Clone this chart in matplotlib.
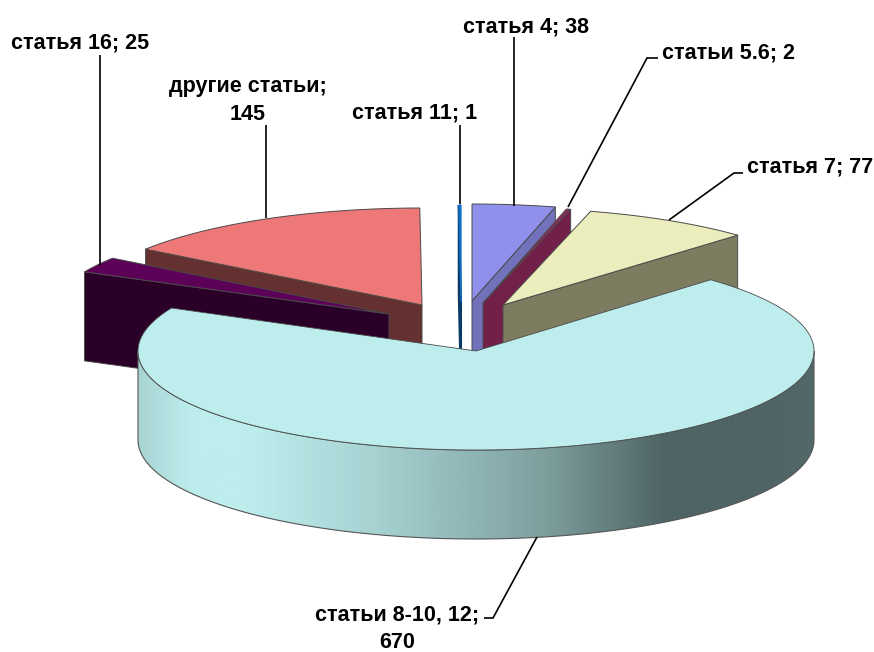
import numpy as np
import matplotlib
matplotlib.use("Agg")
import matplotlib.pyplot as plt
from matplotlib.colors import LinearSegmentedColormap
from matplotlib.patches import Polygon

# ---- data ----
slice_names = ["статья 4", "статьи 5.6", "статья 7", "статьи 8-10, 12",
               "статья 16", "другие статьи", "статья 11"]
slice_values = [38, 2, 77, 670, 25, 145, 1]

# ---- style / layout ----
top_colors = ["#8f8fec", "#8a2a5c", "#ecedbd", "#bdeeed", "#5d0058", "#ee7777", "#0f6fc6"]
face_colors = ["#7272bc", "#722049", "#7d7c60", "#bdeeed", "#2a0028", "#653130", "#0a3a68"]
apex_x = [472, 483, 503, 476, 389, 422, 461]
apex_y = [301, 303, 305, 351, 314, 305, 302]
radius_y = [97, 97, 97, 99, 97, 97, 97]
RX = 338
DEPTH = 89
EDGE = "#4a4a4a"
SLIVER = 6

fig = plt.figure(figsize=(8.74, 6.52), dpi=100)
ax = fig.add_axes([0, 0, 1, 1])
ax.set_xlim(0, 874)
ax.set_ylim(652, 0)
ax.axis("off")

total = sum(slice_values)
ends = np.cumsum(slice_values) / total * 2 * np.pi
starts = np.concatenate([[0], ends[:-1]])


def rim(i, a, b, n=120):
    t = np.linspace(a, b, n)
    return np.column_stack([apex_x[i] + RX * np.sin(t), apex_y[i] - radius_y[i] * np.cos(t)])


def draw_piece(i, z):
    a, b = starts[i], ends[i]
    ax_, ay_ = apex_x[i], apex_y[i]
    arc = rim(i, a, b)
    # cut face shown to the viewer
    edge_pt = arc[-1] if (np.cos(b) > 0 and np.sin(b) > 0) else arc[0]
    face = [(ax_, ay_), tuple(edge_pt), (edge_pt[0], edge_pt[1] + DEPTH), (ax_, ay_ + DEPTH)]
    edge = face_colors[i] if i == SLIVER else EDGE
    width = 1.5 if i == SLIVER else 0.7
    ax.add_patch(Polygon(face, closed=True, fc=face_colors[i], ec=edge, lw=width, zorder=z))
    top = np.vstack([[ax_, ay_], arc])
    ax.add_patch(Polygon(top, closed=True, fc=top_colors[i], ec=top_colors[i] if i == SLIVER else EDGE,
                         lw=0.9 if i == SLIVER else 0.7, zorder=z + 0.001))


for order, i in enumerate([0, 1, 2, 6, 5, 4]):
    draw_piece(i, 2 + order * 0.01)

main = 3
arc_front = rim(main, np.pi / 2, 3 * np.pi / 2)
side = np.vstack([arc_front, arc_front[::-1] + [0, DEPTH]])
side_patch = Polygon(side, closed=True, fc="none", ec="#555555", lw=0.8, zorder=5)
ax.add_patch(side_patch)
cmap = LinearSegmentedColormap.from_list("side", [
    (0.00, "#a8d4d4"), (0.08, "#bdeeed"), (0.16, "#bdeeed"), (0.35, "#a6d2d2"),
    (0.60, "#7f9f9f"), (0.78, "#4f6464"), (0.93, "#4f6464"), (1.00, "#536868")])
img = ax.imshow(np.linspace(0, 1, 512)[None, :], cmap=cmap, aspect="auto",
                extent=[138, 814, 560, 340], zorder=4.9)
img.set_clip_path(Polygon(side, closed=True, transform=ax.transData))
ax.set_xlim(0, 874)
ax.set_ylim(652, 0)
top_main = np.vstack([[apex_x[main], apex_y[main]], rim(main, starts[main], ends[main], 400)])
ax.add_patch(Polygon(top_main, closed=True, fc=top_colors[main], ec=EDGE, lw=0.6, zorder=6))

# ---- labels ----
label_style = dict(family="Liberation Sans", fontweight="bold", fontsize=15.5, color="black",
                   ha="center", va="center", zorder=8)
labels = [("статья 16; 25", 80, 43.5), ("другие статьи;\n145", 248, 100.5), ("статья 11; 1", 415, 112.5),
          ("статья 4; 38", 526, 26.5), ("статьи 5.6; 2", 728, 53.5), ("статья 7; 77", 810, 166.5),
          ("статьи 8-10, 12;\n670", 397, 628.5)]
for text, x, y in labels:
    ax.text(x, y, text, linespacing=1.38, **label_style)

leaders = [[(99.5, 55), (99.5, 265)], [(266, 125), (266, 218)], [(460, 125), (460, 204)],
           [(513.7, 37), (513.7, 206)], [(658, 58), (647, 58), (568, 207)],
           [(743, 173), (734, 173), (669, 220)], [(484, 618), (493, 618), (537, 537)]]
for pts in leaders:
    xs, ys = zip(*pts)
    ax.plot(xs, ys, color="black", lw=1.2, zorder=7, solid_capstyle="butt")

fig.savefig("out.png", dpi=100)
